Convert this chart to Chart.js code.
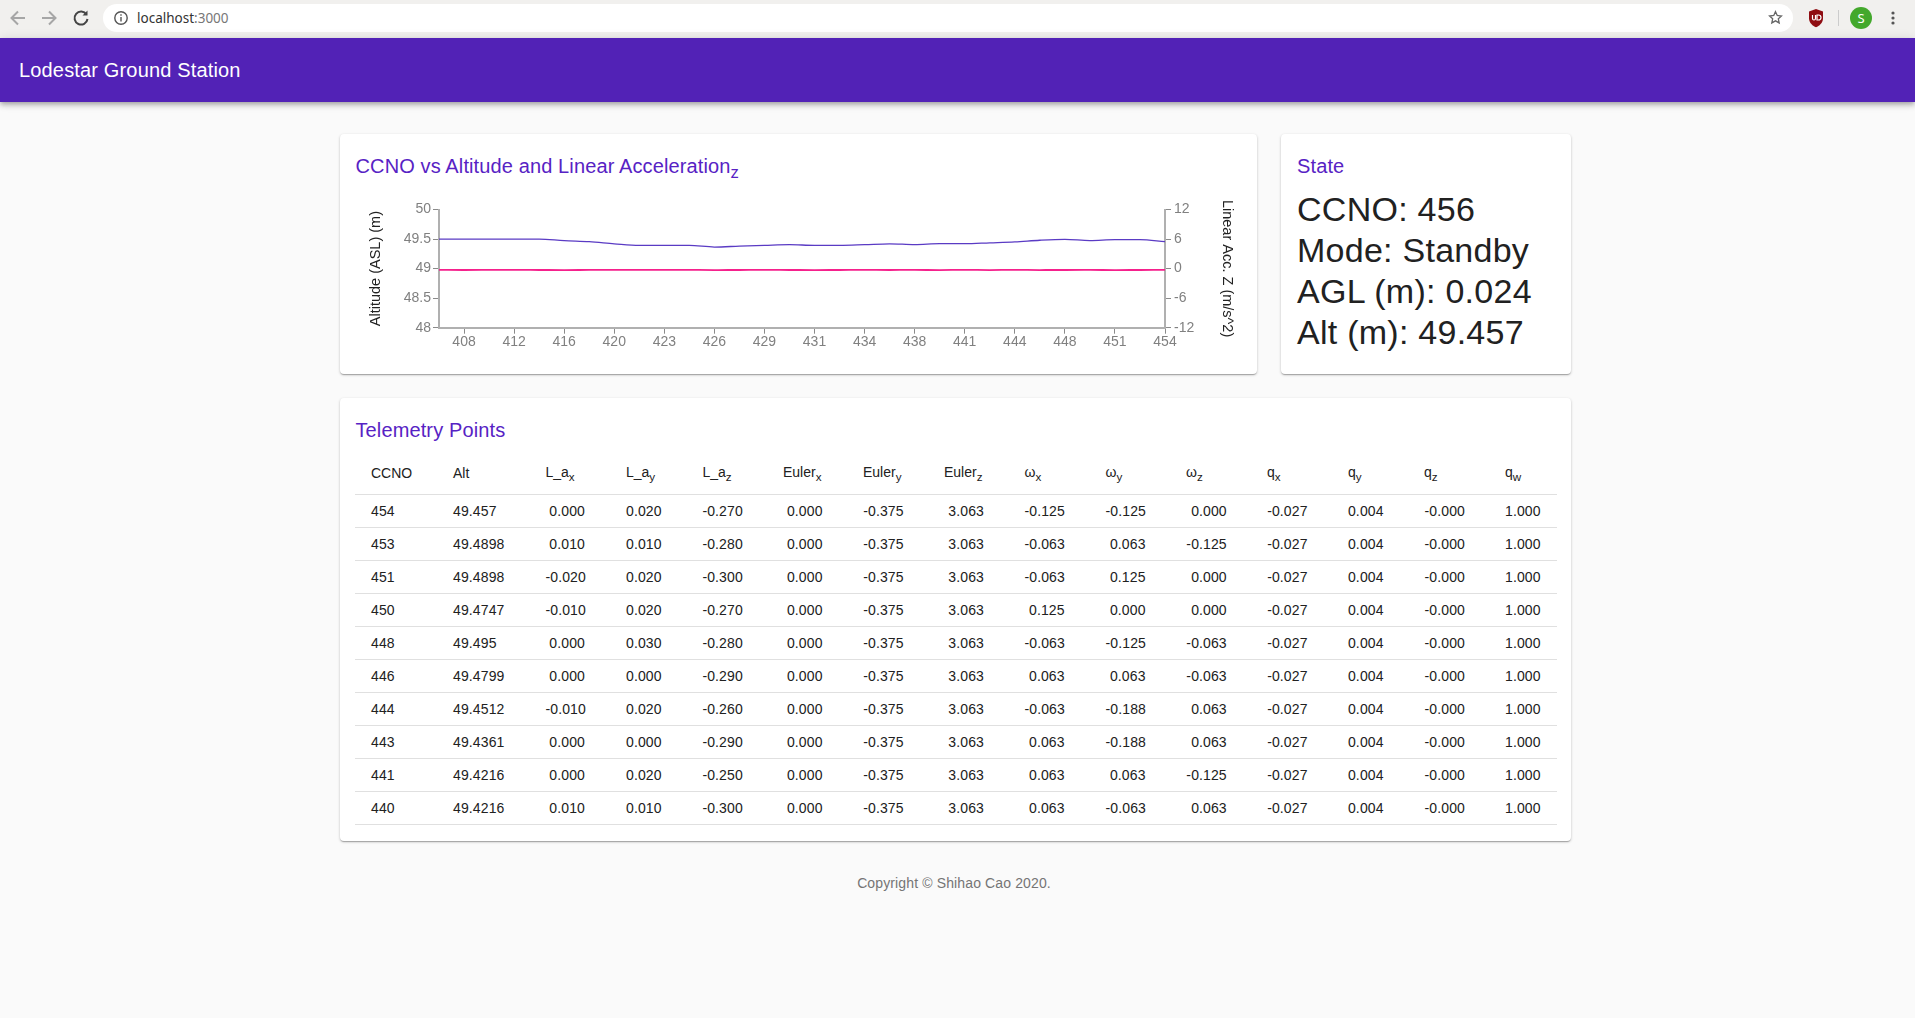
<!DOCTYPE html>
<html>
<head>
<meta charset="utf-8">
<title>Lodestar Ground Station</title>
<script src="https://cdn.jsdelivr.net/npm/chart.js@4"></script>
<style>
    * { box-sizing: border-box; }
    html, body { margin: 0; padding: 0; width: 1915px; height: 1018px; overflow: hidden; }
    body { background: #fafafa; font-family: "Liberation Sans", Arial, sans-serif; color: #212121; position: relative; }

    .toolbar { position: absolute; left: 0; top: 0; width: 1915px; height: 38px; background: #f1f0ee; }
    .toolbar svg { position: absolute; }
    .url { position: absolute; left: 103px; top: 4px; width: 1690px; height: 28px; background: #fff; border-radius: 14px; }
    .url span { position: absolute; left: 34px; top: 4px; font: 13.5px/20px "Noto Sans", sans-serif; color: #333; white-space: nowrap; }
    .url span i { font-style: normal; color: #777; }
    .avatar { position: absolute; left: 1850px; top: 7px; width: 22px; height: 22px; border-radius: 50%; background: #43a82c; color: #fff; font: 13px/22px "Noto Sans", sans-serif; text-align: center; }
    .sep { position: absolute; left: 1838px; top: 10px; width: 1px; height: 16px; background: #ccc; }

    .appbar { position: absolute; left: 0; top: 38px; width: 1915px; height: 64px; background: #5222b6; color: #fff; font-size: 20px; letter-spacing: 0.16px; line-height: 64px; padding-left: 19px; box-shadow: 0 2px 4px -1px rgba(0,0,0,.2), 0 4px 5px 0 rgba(0,0,0,.14), 0 1px 10px 0 rgba(0,0,0,.12); }

    .card { position: absolute; background: #fff; border-radius: 4px; box-shadow: 0 1px 3px 0 rgba(0,0,0,.2), 0 1px 1px 0 rgba(0,0,0,.14), 0 2px 1px -1px rgba(0,0,0,.12); }
    .card h2 { position: absolute; left: 16px; top: 20px; margin: 0; font-size: 20px; letter-spacing: 0.12px; line-height: 24px; font-weight: 400; color: #5722c4; white-space: nowrap; }
    #chartCard { left: 339.5px; top: 134px; width: 917.5px; height: 240px; }
    #stateCard { left: 1281px; top: 134px; width: 290px; height: 240px; }
    #tableCard { left: 339.5px; top: 398px; width: 1231.5px; height: 443px; }
    #chartBox { position: absolute; left: 15.5px; top: 56px; width: 890px; height: 170px; }
    #state { position: absolute; left: 16px; top: 55px; font-size: 34px; letter-spacing: 0.26px; line-height: 41px; color: #212121; white-space: nowrap; }

    table { position: absolute; left: 15.5px; top: 63px; border-collapse: collapse; table-layout: fixed; font-size: 14px; color: #212121; }
    th { font-weight: 400; text-align: left; padding: 0; border-bottom: 1px solid #e0e0e0; }
    thead th { height: 33px; padding-bottom: 8px; }
    td { padding: 0; height: 33px; border-bottom: 1px solid #e0e0e0; letter-spacing: 0.12px; }
    td span { display: inline-block; text-align: right; white-space: nowrap; }
    sub { line-height: 1; }

    .footer { position: absolute; left: 0; top: 875px; width: 1908px; text-align: center; font-size: 14px; letter-spacing: 0.13px; line-height: 16px; color: #757575; }
</style>
</head>
<body>

<div class="toolbar">
    <svg style="left:8px;top:8px" width="20" height="20" viewBox="0 0 20 20" fill="none" stroke="#a6a6a6" stroke-width="2"><path d="M17 10H4M10 3.5L3.5 10l6.5 6.5"/></svg>
    <svg style="left:39px;top:8px" width="20" height="20" viewBox="0 0 20 20" fill="none" stroke="#a6a6a6" stroke-width="2"><path d="M3 10h13M10 3.5l6.5 6.5-6.5 6.5"/></svg>
    <svg style="left:71px;top:8px" width="20" height="20" viewBox="0 0 20 20" fill="none" stroke="#444" stroke-width="2"><path d="M15.5 6.5A6.5 6.5 0 1 0 16.5 11"/><path d="M16.5 2.5v5h-5" fill="#444" stroke="none"/></svg>
    <div class="url">
        <svg style="left:10px;top:6px" width="16" height="16" viewBox="0 0 16 16" fill="none" stroke="#555" stroke-width="1.4"><circle cx="8" cy="8" r="6.2"/><path d="M8 7v4.5M8 4.2v1.6"/></svg>
        <span>localhost<i>:3000</i></span>
        <svg style="left:1665px;top:6px" width="15" height="15" viewBox="0 0 18 18" fill="none" stroke="#666" stroke-width="1.6"><path d="M9 2l2.1 4.6 5 .6-3.7 3.4 1 4.9L9 13l-4.400 2.500 1-4.900L1.900 7.200l5-.6z"/></svg>
    </div>
    <svg style="left:1808px;top:8px" width="16" height="20" viewBox="0 0 16 20"><path d="M8 1l7 2.500v7C15 15 11 18 8 19.300 5 18 1 15 1 10.500v-7z" fill="#8f0d12"/><path d="M4.500 7v3.500a1.500 1.500 0 0 0 3 0V7M9 7v5h1.500a2.500 2.500 0 0 0 0-5z" fill="none" stroke="#fff" stroke-width="1.200"/></svg>
    <div class="sep"></div>
    <div class="avatar">S</div>
    <svg style="left:1890px;top:10px" width="6" height="18" viewBox="0 0 6 18" fill="#555"><circle cx="3" cy="3" r="1.600"/><circle cx="3" cy="8" r="1.600"/><circle cx="3" cy="13" r="1.600"/></svg>
</div>

<div class="appbar">Lodestar Ground Station</div>

<div class="card" id="chartCard">
    <h2>CCNO vs Altitude and Linear Acceleration<sub>z</sub></h2>
    <div id="chartBox"><canvas id="myChart"></canvas></div>
</div>

<div class="card" id="stateCard">
    <h2>State</h2>
    <div id="state"></div>
</div>

<div class="card" id="tableCard">
    <h2>Telemetry Points</h2>
    <table id="telemetry"></table>
</div>

<div class="footer">Copyright © Shihao Cao 2020.</div>

<script>
// chart values, oldest first
const ccnoLabels = ['407','408','410','412','414','416','418','420','421','423','424','426','428','429','430',
    '431','433','434','436','438','440','441','443','444','446','448','450','451','453','454'];
const altitudeValues = [49.5,49.5,49.5,49.5,49.5,49.472,49.455,49.42,49.393,49.393,49.393,49.365,49.38,49.393,49.405,
    49.393,49.393,49.405,49.42,49.405,49.4216,49.4216,49.4361,49.4512,49.4799,49.495,49.4747,49.4898,49.4898,49.457];
const accZValues = [-0.27,-0.28,-0.27,-0.26,-0.28,-0.3,-0.27,-0.25,-0.27,-0.26,-0.27,-0.29,-0.28,-0.27,-0.28,
    -0.29,-0.28,-0.27,-0.28,-0.27,-0.3,-0.25,-0.29,-0.26,-0.29,-0.28,-0.27,-0.3,-0.28,-0.27];

const altTicks = [48, 48.5, 49, 49.5, 50];
const accTicks = [-12, -6, 0, 6, 12];

// state panel
const stateLines = ['CCNO: 456', 'Mode: Standby', 'AGL (m): 0.024', 'Alt (m): 49.457'];

// table columns, newest first
const tableHeaders = ['CCNO','Alt','L_a<sub>x</sub>','L_a<sub>y</sub>','L_a<sub>z</sub>','Euler<sub>x</sub>','Euler<sub>y</sub>','Euler<sub>z</sub>',
    'ω<sub>x</sub>','ω<sub>y</sub>','ω<sub>z</sub>','q<sub>x</sub>','q<sub>y</sub>','q<sub>z</sub>','q<sub>w</sub>'];
const tableCcno = ['454','453','451','450','448','446','444','443','441','440'];
const tableAlt = ['49.457','49.4898','49.4898','49.4747','49.495','49.4799','49.4512','49.4361','49.4216','49.4216'];
const tableLax = ['0.000','0.010','-0.020','-0.010','0.000','0.000','-0.010','0.000','0.000','0.010'];
const tableLay = ['0.020','0.010','0.020','0.020','0.030','0.000','0.020','0.000','0.020','0.010'];
const tableLaz = ['-0.270','-0.280','-0.300','-0.270','-0.280','-0.290','-0.260','-0.290','-0.250','-0.300'];
const tableEulerX = ['0.000','0.000','0.000','0.000','0.000','0.000','0.000','0.000','0.000','0.000'];
const tableEulerY = ['-0.375','-0.375','-0.375','-0.375','-0.375','-0.375','-0.375','-0.375','-0.375','-0.375'];
const tableEulerZ = ['3.063','3.063','3.063','3.063','3.063','3.063','3.063','3.063','3.063','3.063'];
const tableWx = ['-0.125','-0.063','-0.063','0.125','-0.063','0.063','-0.063','0.063','0.063','0.063'];
const tableWy = ['-0.125','0.063','0.125','0.000','-0.125','0.063','-0.188','-0.188','0.063','-0.063'];
const tableWz = ['0.000','-0.125','0.000','0.000','-0.063','-0.063','0.063','0.063','-0.125','0.063'];
const tableQx = ['-0.027','-0.027','-0.027','-0.027','-0.027','-0.027','-0.027','-0.027','-0.027','-0.027'];
const tableQy = ['0.004','0.004','0.004','0.004','0.004','0.004','0.004','0.004','0.004','0.004'];
const tableQz = ['-0.000','-0.000','-0.000','-0.000','-0.000','-0.000','-0.000','-0.000','-0.000','-0.000'];
const tableQw = ['1.000','1.000','1.000','1.000','1.000','1.000','1.000','1.000','1.000','1.000'];

const tableColumns = [tableCcno,tableAlt,tableLax,tableLay,tableLaz,tableEulerX,tableEulerY,tableEulerZ,
    tableWx,tableWy,tableWz,tableQx,tableQy,tableQz,tableQw];

// left edge of each column and width of its number block, in px
const colLeft = [371,453,545.5,626,702.4,783,863,944,1024.5,1105.6,1186,1267,1348,1424,1505];
const colBlock = [40,60,39.500,35.500,40.200,39.600,40.700,40,40.200,40,40.800,40.600,35.600,41,35.700];

document.getElementById('state').innerHTML = stateLines.map(s => '<div>'+s+'</div>').join('');

function buildTable(){
    const table = document.getElementById('telemetry');
    const tableLeft = 355;
    const tableRight = 1557;
    let html = '<colgroup>';
    colLeft.forEach((x,i)=>{
        const start = i===0 ? tableLeft : x;
        const end = i===colLeft.length-1 ? tableRight : colLeft[i+1];
        html += `<col style="width:${end-start}px">`;
    });
    html += '</colgroup><thead><tr>';
    tableHeaders.forEach((h,i)=>{
        html += `<th style="padding-left:${i===0 ? 16 : 0}px">${h}</th>`;
    });
    html += '</tr></thead><tbody>';
    tableCcno.forEach((c,r)=>{
        html += '<tr>';
        tableColumns.forEach((col,i)=>{
            const align = i<2 ? 'left' : 'right';
            html += `<td style="padding-left:${i===0 ? 16 : 0}px"><span style="width:${colBlock[i]}px;text-align:${align}">${col[r]}</span></td>`;
        });
        html += '</tr>';
    });
    html += '</tbody>';
    table.innerHTML = html;
    table.style.width = (tableRight-tableLeft)+'px';
}
buildTable();

const ctx = document.getElementById('myChart').getContext('2d');

const tickFont = {family:'"Liberation Sans"', size:14};
const titleFont = {family:'"Liberation Sans"', size:14.5};

let chart = new Chart(ctx, {
    type: 'line',
    data: {
        labels: ccnoLabels,
        datasets: [{
            label: 'Altitude',
            data: altitudeValues,
            yAxisID: 'alt',
            borderColor: '#5a3bc4',
            borderWidth: 1.3,
            cubicInterpolationMode: 'monotone',
            pointRadius: 0
        },{
            label: 'Linear Acc. Z',
            data: accZValues,
            yAxisID: 'acc',
            borderColor: '#f5218c',
            borderWidth: 1.8,
            cubicInterpolationMode: 'monotone',
            pointRadius: 0
        }]
    },
    options: {
        responsive: true,
        maintainAspectRatio: false,
        animation: false,
        layout: {padding: {top: 19.5}},
        plugins: {legend: {display:false}, tooltip: {enabled:false}},
        scales: {
            x: {
                afterFit: s => { s.height = 32.3; },
                border: {color:'#b0b0b0', width:2},
                grid: {
                    drawOnChartArea:false,
                    tickLength:6,
                    tickWidth:1,
                    tickColor: c => (c.index%2===1 ? '#8a8a8a' : 'rgba(0,0,0,0)')
                },
                ticks: {
                    autoSkip:false,
                    maxRotation:0,
                    padding:0.5,
                    color:'#808080',
                    font:tickFont,
                    callback: function(v,i){ return i%2===1 ? this.getLabelForValue(v) : ''; }
                }
            },
            alt: {
                position:'left',
                min:48,
                max:50,
                afterFit: s => { s.width = 84; },
                afterBuildTicks: s => { s.ticks = altTicks.map(v=>({value:v})); },
                border: {color:'#b0b0b0', width:2},
                grid: {drawOnChartArea:false, tickLength:6, tickWidth:1, tickColor:'#8a8a8a'},
                ticks: {padding:2, color:'#808080', font:tickFont, callback: v => String(v)},
                title: {display:true, text:'Altitude (ASL) (m)', color:'#222', font:titleFont, padding:{top:12,bottom:0}}
            },
            acc: {
                position:'right',
                min:-12,
                max:12,
                afterFit: s => { s.width = 80; },
                afterBuildTicks: s => { s.ticks = accTicks.map(v=>({value:v})); },
                border: {color:'#b0b0b0', width:2},
                grid: {drawOnChartArea:false, tickLength:6, tickWidth:1, tickColor:'#8a8a8a'},
                ticks: {padding:3, color:'#808080', font:tickFont, callback: v => String(v)},
                title: {display:true, text:'Linear Acc. Z (m/s^2)', color:'#222', font:titleFont, padding:{top:9,bottom:0}}
            }
        }
    }
});
</script>
</body>
</html>
